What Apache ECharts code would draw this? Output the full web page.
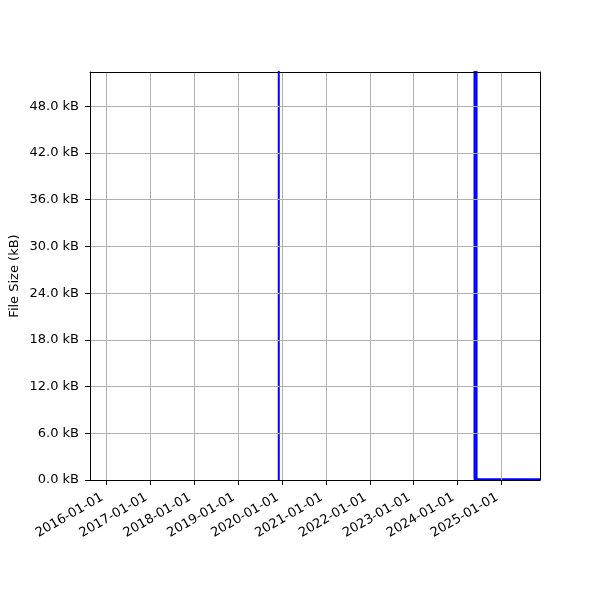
<!DOCTYPE html>
<html>
<head>
<meta charset="utf-8">
<script src="https://cdn.jsdelivr.net/npm/echarts@6/dist/echarts.min.js"></script>
<style>html,body{margin:0;padding:0;background:#fff}#c{width:600px;height:600px}</style>
</head>
<body>
<div id="c"></div>
<script>
// Data (file size in kB; values above the axis maximum are clipped)
const dates = ['2019-12-05', '2019-12-05', '2019-12-06', '2024-05-21', '2024-05-21', '2024-06-07', '2024-06-07', '2024-06-07', '2025-11-17'];
const sizesKB = [0, 60, null, 60, 0.1, 0.1, 60, 0.1, 0.1];
const xTickLabels = ['2016-01-01', '2017-01-01', '2018-01-01', '2019-01-01', '2020-01-01', '2021-01-01', '2022-01-01', '2023-01-01', '2024-01-01', '2025-01-01'];
const yTicks = [0, 6, 12, 18, 24, 30, 36, 42, 48];
const xRange = ['2015-08-17', '2025-11-17'];
const yMax = 52.4;

const font = 'DejaVu Sans';
const ts = s => Date.parse(s + 'T00:00:00Z');
const seriesData = dates.map((d, i) => [ts(d), sizesKB[i]]);
const xTickVals = xTickLabels.map(ts);

const chart = echarts.init(document.getElementById('c'), null, {renderer: 'canvas'});
chart.setOption({
  animation: false,
  backgroundColor: '#fff',
  grid: {left: 90, right: 60, top: 72, bottom: 120, show: false, containLabel: false, outerBoundsMode: 'none'},
  xAxis: [{
    type: 'value', min: ts(xRange[0]), max: ts(xRange[1]), z: 5,
    axisLine: {show: true, onZero: false, lineStyle: {color: '#000', width: 1}},
    axisTick: {show: true, inside: false, length: 5, customValues: xTickVals, lineStyle: {color: '#000'}},
    axisLabel: {customValues: xTickVals, rotate: 30, margin: 14, padding: [0, 5, 0, 0], fontFamily: font, fontSize: 13, color: '#000',
      hideOverlap: false, formatter: v => new Date(v).toISOString().slice(0, 10)},
    splitLine: {show: true, lineStyle: {color: '#b0b0b0', width: 1}}
  }, {
    type: 'value', position: 'top', min: ts(xRange[0]), max: ts(xRange[1]), z: 5,
    axisLine: {show: true, onZero: false, lineStyle: {color: '#000', width: 1}},
    axisTick: {show: false}, axisLabel: {show: false}, splitLine: {show: false}
  }],
  yAxis: [{
    type: 'value', min: 0, max: yMax, z: 5,
    name: 'File Size (kB)', nameLocation: 'middle', nameGap: 69, nameMoveOverlap: false,
    nameTextStyle: {fontFamily: font, fontSize: 13, color: '#000'},
    axisLine: {show: true, onZero: false, lineStyle: {color: '#000', width: 1}},
    axisTick: {show: true, inside: false, length: 5, customValues: yTicks, lineStyle: {color: '#000'}},
    axisLabel: {customValues: yTicks, margin: 11, fontFamily: font, fontSize: 13, color: '#000',
      formatter: v => v.toFixed(1) + ' kB'},
    splitLine: {show: true, lineStyle: {color: '#b0b0b0', width: 1}}
  }, {
    type: 'value', position: 'right', min: 0, max: yMax, z: 5,
    axisLine: {show: true, onZero: false, lineStyle: {color: '#000', width: 1}},
    axisTick: {show: false}, axisLabel: {show: false}, splitLine: {show: false}
  }],
  series: [{
    type: 'line', data: seriesData, xAxisIndex: 0, yAxisIndex: 0,
    showSymbol: false, connectNulls: false, clip: true,
    lineStyle: {color: '#0000ff', width: 2},
    itemStyle: {color: '#0000ff'}
  }]
});
</script>
</body>
</html>
